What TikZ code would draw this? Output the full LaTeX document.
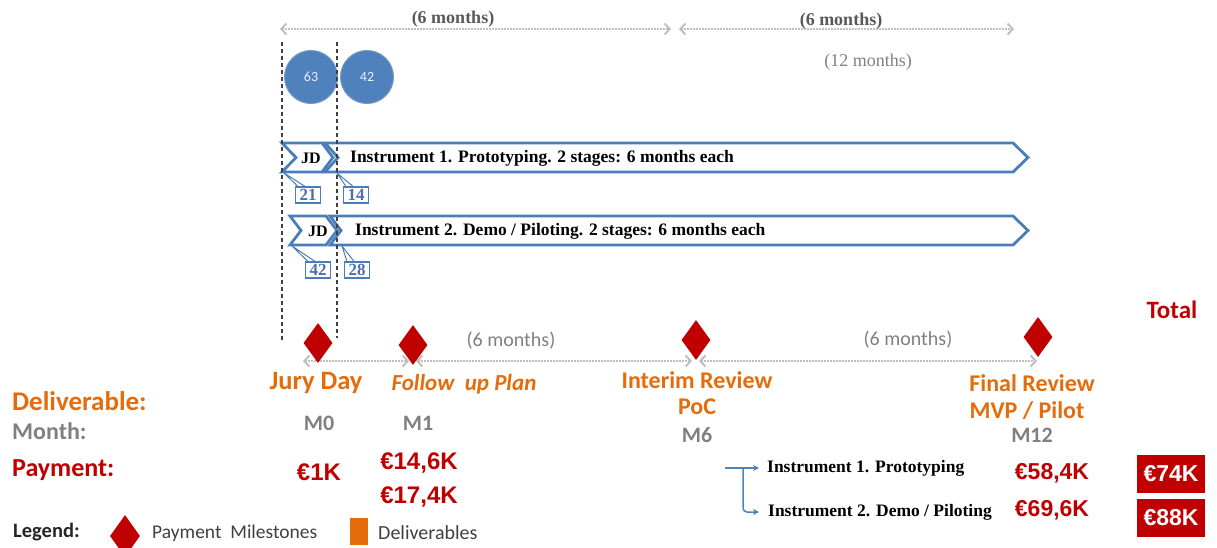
\documentclass[tikz,border=0pt]{standalone}
\usepackage{fontspec}
\setmainfont{Liberation Serif}
\newfontfamily\calf{Carlito}
\newfontfamily\arif{Liberation Sans}
\usetikzlibrary{arrows.meta,shapes.geometric}
\newcommand\myfs[1]{\fontsize{#1}{#1}\selectfont}
\definecolor{cblue}{HTML}{4F81BD}
\definecolor{bord}{HTML}{4A7EBB}
\definecolor{dred}{HTML}{C00000}
\definecolor{orng}{HTML}{E46C0A}
\definecolor{mgray}{HTML}{808080}
\definecolor{lgray}{HTML}{BFBFBF}
\definecolor{dgray}{HTML}{404040}
\definecolor{numc}{HTML}{4F6FA8}
\definecolor{tgray}{HTML}{595959}
\tikzset{
  barb/.tip={Straight Barb[length=5pt,width=11pt]},
  dotarr/.style={draw=lgray, line width=2pt, dash pattern=on 1.4pt off 1.6pt, barb-barb},
  vdash/.style={draw=dgray, line width=1.8pt, dash pattern=on 4pt off 3pt},
  chev/.style={draw=bord, line width=2.8pt, fill=white, line join=miter},
  num/.style={draw=bord, line width=1.2pt, fill=white, text=numc, font=\bfseries\myfs{17}, minimum width=25pt, minimum height=16pt, inner sep=0pt},
  ptr/.style={draw=bord, line width=1pt},
  circ/.style={circle, fill=cblue, draw=cblue!80!white, line width=1pt, minimum size=53pt, inner sep=0pt, text=white!88!cblue, font=\calf\myfs{14}},
  dia/.style={diamond, fill=dred, minimum width=29pt, minimum height=40pt, inner sep=0pt},
  olab/.style={text=orng, font=\calf\bfseries\myfs{24}, inner sep=0pt},
  mlab/.style={text=mgray, font=\calf\bfseries\myfs{22}, inner sep=0pt},
  pay/.style={text=dred, font=\arif\bfseries\myfs{24}, inner sep=0pt},
  tbox/.style={fill=dred, text=white, font=\arif\bfseries\myfs{23}, minimum width=68pt, minimum height=38pt, inner sep=0pt},
  sixm/.style={text=mgray, font=\calf\myfs{20}, inner sep=0pt},
  conn/.style={draw=cblue, line width=1.5pt, -{Stealth[length=6pt,width=6pt]}},
}
\begin{document}
\begin{tikzpicture}[x=1pt,y=-1pt]
\useasboundingbox (0,0) rectangle (1217,547);
% top dotted arrows
\coordinate (t0) at (280,29);
\coordinate (t1) at (671,29);
\coordinate (t2) at (679,29);
\coordinate (t3) at (1014,29);
\draw[dotarr] (t0) -- (t1);
\draw[dotarr] (t2) -- (t3);
\node[text=tgray, font=\bfseries\myfs{18}, inner sep=0pt] (sm1) at (453,19) {(6 months)};
\node[text=tgray, font=\bfseries\myfs{18}, inner sep=0pt] (sm2) at (841,21) {(6 months)};
\node[text=mgray, font=\myfs{18}, inner sep=0pt] (tw) at (868,62) {(12 months)};
% circles
\node[circ] (c63) at (311,77) {63};
\node[circ] (c42) at (367,77) {42};
% chevrons row 1
\draw[chev] (325,143) -- (1013,143) -- (1028,157.5) -- (1013,172) -- (325,172) -- (338,157.5) -- cycle;
\draw[chev] (282,143) -- (322,143) -- (333,157.5) -- (322,172) -- (282,172) -- (296,157.5) -- cycle;
\node[font=\bfseries\myfs{16}, inner sep=0pt] (jd1) at (311,158) {JD};
\node[font=\bfseries\myfs{17.5}, inner sep=0pt, anchor=west] (ins1) at (350,158) {Instrument 1. Prototyping. 2 stages: 6 months each};
% chevrons row 2
\draw[chev] (330,216) -- (1013,216) -- (1028,230.5) -- (1013,245) -- (330,245) -- (341,230.5) -- cycle;
\draw[chev] (290,216) -- (326,216) -- (337,230.5) -- (326,245) -- (290,245) -- (301,230.5) -- cycle;
\node[font=\bfseries\myfs{16}, inner sep=0pt] (jd2) at (318,231) {JD};
\node[font=\bfseries\myfs{17.5}, inner sep=0pt, anchor=west] (ins2) at (355,231) {Instrument 2. Demo / Piloting. 2 stages: 6 months each};
% callouts
\coordinate (p21) at (284,173);
\coordinate (p14) at (337,173);
\coordinate (p42) at (292,246);
\coordinate (p28) at (342,246);
\node[num] (n21) at (308,195) {21};
\node[num] (n14) at (356,195) {14};
\node[num] (n42) at (318,270) {42};
\node[num] (n28) at (357,270) {28};
\draw[ptr] ([xshift=3pt]n21.north west) -- (p21) -- ([xshift=-3pt]n21.north);
\draw[ptr] ([xshift=3pt]n14.north west) -- (p14) -- ([xshift=-3pt]n14.north);
\draw[ptr] ([xshift=3pt]n42.north west) -- (p42) -- ([xshift=-3pt]n42.north);
\draw[ptr] ([xshift=3pt]n28.north west) -- (p28) -- ([xshift=-3pt]n28.north);
% dashed vertical lines
\coordinate (v1a) at (282,42);
\coordinate (v1b) at (282,342);
\coordinate (v2a) at (337,42);
\coordinate (v2b) at (337,338);
\draw[vdash] (v1a) -- (v1b);
\draw[vdash] (v2a) -- (v2b);
% bottom timeline
\coordinate (b0) at (303,361);
\coordinate (b1) at (409,361);
\coordinate (b2) at (416,361);
\coordinate (b3) at (692,361);
\coordinate (b4) at (699,361);
\coordinate (b5) at (1037,361);
\draw[dotarr] (b0) -- (b1);
\draw[dotarr] (b2) -- (b3);
\draw[dotarr] (b4) -- (b5);
\node[sixm] (bm1) at (511,341) {(6 months)};
\node[sixm] (bm2) at (908,340) {(6 months)};
\node[dia] (d0) at (318,343) {};
\node[dia] (d1) at (413,345) {};
\node[dia] (d6) at (696,340) {};
\node[dia] (d12) at (1038,337) {};
% milestone labels
\node[olab, font=\calf\bfseries\myfs{26.5}] (jury) at (316,383) {Jury Day};
\node[olab, font=\calf\bfseries\itshape\myfs{23}] (fup) at (464,384) {Follow\ \ up Plan};
\node[olab] (irev) at (697,380) {Interim Review};
\node[olab] (poc) at (697,407) {PoC};
\node[olab] (frev) at (1032,383) {Final Review};
\node[olab] (mvp) at (1027,411) {MVP / Pilot};
\node[mlab] (m0) at (319,423) {M0};
\node[mlab] (m1) at (418,423) {M1};
\node[mlab] (m6) at (697,435) {M6};
\node[mlab] (m12) at (1032,435) {M12};
% left labels
\node[anchor=west, text=orng, font=\calf\bfseries\myfs{27}, inner sep=0pt] (deliv) at (12,401) {Deliverable:};
\node[anchor=west, text=mgray, font=\calf\bfseries\myfs{24}, inner sep=0pt] (month) at (12,431) {Month:};
\node[anchor=west, text=dred, font=\calf\bfseries\myfs{26}, inner sep=0pt] (paym) at (12,470) {Payment:};
% payments
\node[pay] (e1) at (319,472) {€1K};
\node[pay] (e146) at (419,463) {€14,6K};
\node[pay] (e174) at (419,497) {€17,4K};
\node[pay, font=\arif\bfseries\myfs{23}] (e584) at (1052,473) {€58,4K};
\node[pay, font=\arif\bfseries\myfs{23}] (e696) at (1052,510) {€69,6K};
\node[tbox] (t74) at (1171,474) {€74K};
\node[tbox] (t88) at (1171,517.5) {€88K};
\node[text=dred, font=\calf\bfseries\myfs{25}, inner sep=0pt] (total) at (1172,310) {Total};
% instrument list
\node[anchor=west, font=\bfseries\myfs{17.5}, inner sep=0pt] (i1) at (767,468) {Instrument 1. Prototyping};
\node[anchor=west, font=\bfseries\myfs{17.5}, inner sep=0pt] (i2) at (768,512) {Instrument 2. Demo / Piloting};
\coordinate (s0) at (725,468);
\coordinate (s1) at (743,468);
\draw[conn] (s0) -- ([xshift=-8pt]i1.west);
\draw[conn, rounded corners=4pt] (s1) |- ([xshift=-9pt]i2.west);
% legend
\node[anchor=west, text=black!85, font=\calf\bfseries\myfs{20.5}, inner sep=0pt] (leg) at (13,532) {Legend:};
\node[dia, minimum width=30pt, minimum height=42pt] (ld) at (125,536) {};
\node[anchor=west, text=dgray, font=\calf\myfs{19.5}, inner sep=0pt] (lpm) at (152,533) {Payment\ \ Milestones};
\node[fill=orng, minimum width=18pt, minimum height=27pt, inner sep=0pt] (lsq) at (359,531) {};
\node[anchor=west, text=dgray, font=\calf\myfs{20}, inner sep=0pt] (ldl) at (378,533) {Deliverables};
\end{tikzpicture}
\end{document}
